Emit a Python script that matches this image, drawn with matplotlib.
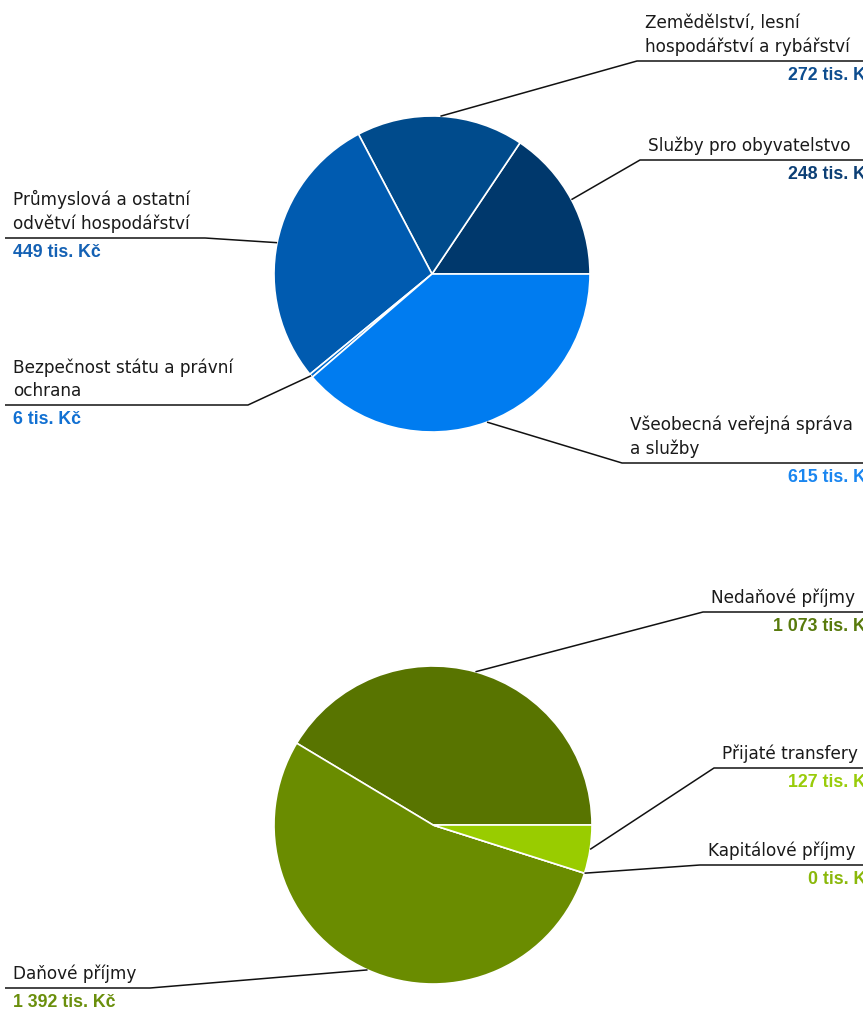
import numpy as np
import matplotlib
matplotlib.use('Agg')
import matplotlib.pyplot as plt

W, H = 863, 1009

# top pie: expenditure by sector (tis. Kč), counter-clockwise from 3 o'clock
exp_labels = ['Služby pro obyvatelstvo', 'Zemědělství, lesní\nhospodářství a rybářství',
              'Průmyslová a ostatní\nodvětví hospodářství', 'Bezpečnost státu a právní\nochrana',
              'Všeobecná veřejná správa\na služby']
exp_values = [248, 272, 449, 6, 615]
exp_colors = ['#00386c', '#004b8c', '#005bb0', '#006cd0', '#007cf0']
exp_text_colors = ['#0c3f75', '#0d4d8f', '#1461b4', '#1170d2', '#1a86f0']

# bottom pie: income (tis. Kč)
inc_labels = ['Nedaňové příjmy', 'Daňové příjmy', 'Kapitálové příjmy', 'Přijaté transfery']
inc_values = [1073, 1392, 0, 127]
inc_colors = ['#587400', '#6a8c00', '#85b000', '#99cc00']
inc_text_colors = ['#587a0c', '#6a8f0c', '#8ab80a', '#99cc0a']


def fmt(v):
    return '{:,}'.format(v).replace(',', ' ') + ' tis. Kč'


fig = plt.figure(figsize=(W / 100, H / 100), dpi=100)
ax = fig.add_axes([0, 0, 1, 1])

LABEL_FONT = dict(family='DejaVu Sans', fontsize=12.2, color='#1a1a1a', linespacing=1.38)
VALUE_FONT = dict(family='Liberation Sans', fontsize=12.8, fontweight='bold')


def draw_pie(center, radius, values, colors, labels, text_colors, layout):
    ax.pie(values, colors=colors, startangle=0, counterclock=False,
           center=center, radius=radius, frame=True,
           wedgeprops=dict(edgecolor='white', linewidth=1.2))
    total = float(sum(values))
    start = 0.0
    for val, lab, tc, lay in zip(values, labels, text_colors, layout):
        sweep = val / total * 360
        mid = np.radians(start + sweep / 2)
        start += sweep
        px = center[0] + radius * np.cos(mid)
        py = center[1] - radius * np.sin(mid)
        side, knee_x, line_y, x_end = lay
        ax.plot([px, knee_x, x_end], [py, line_y, line_y], color='#111111', lw=1.1,
                solid_capstyle='butt')
        if side == 'right':
            ax.text(knee_x + 8, line_y - 5, lab, ha='left', va='bottom', **LABEL_FONT)
            ax.text(876, line_y + 6, fmt(val), ha='right', va='top', color=tc, **VALUE_FONT)
        else:
            ax.text(13, line_y - 5, lab, ha='left', va='bottom', **LABEL_FONT)
            ax.text(13, line_y + 6, fmt(val), ha='left', va='top', color=tc, **VALUE_FONT)


# (side, knee x, line y, far end x)
exp_layout = [('right', 640, 160, W), ('right', 637, 61, W), ('left', 205, 238, 5),
              ('left', 248, 405, 5), ('right', 622, 463, W)]
inc_layout = [('right', 703, 612, W), ('left', 150, 988, 5), ('right', 700, 865, W),
              ('right', 714, 768, W)]

draw_pie((432, 274), 158, exp_values, exp_colors, exp_labels, exp_text_colors, exp_layout)
draw_pie((433, 825), 159, inc_values, inc_colors, inc_labels, inc_text_colors, inc_layout)

ax.set_xlim(0, W)
ax.set_ylim(H, 0)
ax.set_aspect('auto')
ax.axis('off')

plt.savefig('out.png', dpi=100)
